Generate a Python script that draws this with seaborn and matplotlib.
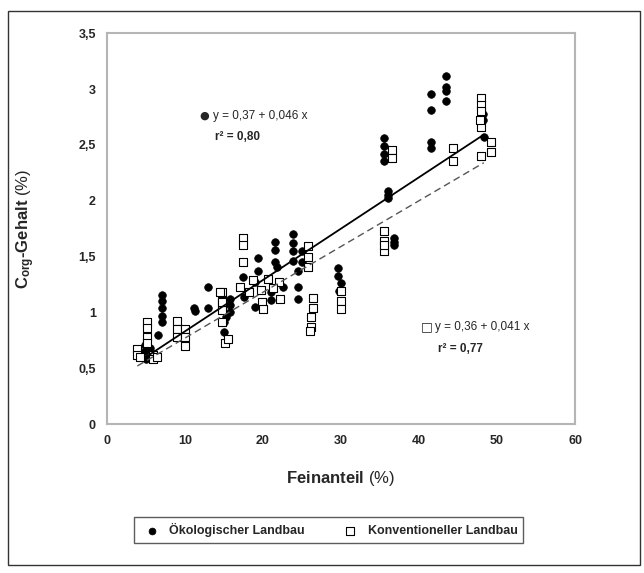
"""
plot.py - Corg-Gehalt vs. Feinanteil, Oekologischer vs. Konventioneller Landbau.
"""

import numpy as np
import matplotlib
matplotlib.use("Agg")
import matplotlib.pyplot as plt
from matplotlib.patches import Rectangle
from matplotlib.ticker import FuncFormatter
import seaborn as sns

# ---- data ----------------------------------------------------------------
oeko_x = [4.9, 4.9, 5.0, 5.8, 6.0, 5.5, 6.6, 7.0, 7.0, 7.1, 7.1, 7.1,
          11.1, 11.3, 13.0, 13.0, 15.0, 15.0, 15.2, 15.8, 15.8, 15.8,
          17.4, 17.6, 19.0, 19.0, 19.3, 19.3, 21.0, 21.0, 21.6, 21.6, 21.6,
          21.8, 22.6, 23.8, 23.8, 23.8, 23.8, 24.5, 24.5, 24.5, 25.0, 25.0,
          29.6, 29.6, 30.0, 29.8,
          35.5, 35.5, 35.5, 35.5, 36.0, 36.0, 36.0, 36.8, 36.8, 36.8,
          41.5, 41.5, 41.5, 41.5, 43.4, 43.4, 43.4, 43.4,
          48.0, 48.2, 48.2, 48.3]
oeko_y = [0.71, 0.65, 0.58, 0.59, 0.63, 0.68, 0.80, 0.91, 0.97, 1.04, 1.10, 1.16,
          1.04, 1.01, 1.23, 1.04, 0.91, 0.82, 0.96, 1.00, 1.12, 1.07,
          1.32, 1.14, 1.27, 1.05, 1.49, 1.37, 1.18, 1.11, 1.63, 1.56, 1.45,
          1.41, 1.23, 1.70, 1.62, 1.55, 1.46, 1.37, 1.23, 1.12, 1.55, 1.45,
          1.40, 1.33, 1.26, 1.19,
          2.56, 2.49, 2.42, 2.36, 2.09, 2.02, 2.05, 1.67, 1.60, 1.63,
          2.96, 2.81, 2.53, 2.47, 3.12, 3.02, 2.98, 2.89,
          2.85, 2.78, 2.72, 2.57]

konv_x = [3.9, 3.9, 4.2, 5.1, 5.1, 5.1, 5.1, 5.9, 5.9, 6.4,
          9.0, 9.0, 9.0, 10.0, 10.0, 10.0,
          14.8, 14.8, 14.8, 14.8, 15.1, 15.5, 14.5, 14.7,
          17.1, 17.5, 17.5, 17.5, 18.7, 19.7, 19.9, 20.0, 20.7, 22.0, 22.2,
          18.2, 21.3,
          25.8, 25.8, 25.8, 26.4, 26.4, 26.2, 26.2, 26.0,
          30.0, 30.0, 30.0,
          35.5, 35.5, 35.5, 35.5,
          36.6, 36.6,
          44.3, 44.3,
          48.0, 48.0, 48.0, 48.0, 48.0, 49.2, 49.2, 47.8]
konv_y = [0.67, 0.62, 0.60, 0.91, 0.86, 0.78, 0.73, 0.62, 0.58, 0.60,
          0.92, 0.85, 0.78, 0.85, 0.78, 0.70,
          1.18, 1.10, 1.02, 0.91, 0.73, 0.76, 1.18, 1.09,
          1.23, 1.67, 1.60, 1.45, 1.29, 1.20, 1.09, 1.03, 1.30, 1.27, 1.12,
          1.18, 1.22,
          1.59, 1.50, 1.41, 1.13, 1.04, 0.96, 0.87, 0.83,
          1.19, 1.10, 1.03,
          1.73, 1.64, 1.55, 1.60,
          2.45, 2.38,
          2.47, 2.36,
          2.92, 2.86, 2.80, 2.66, 2.40, 2.53, 2.44, 2.72]

# regression coefficients (intercept, slope) as printed in the chart
oeko_fit = [0.37, 0.046]
konv_fit = [0.36, 0.041]

x_ticks = [0, 10, 20, 30, 40, 50, 60]
y_ticks = [0, 0.5, 1, 1.5, 2, 2.5, 3, 3.5]

# ---- style ---------------------------------------------------------------
sns.set_style("white")
plt.rcParams["font.family"] = ["Liberation Sans", "DejaVu Sans"]
plt.rcParams["mathtext.fontset"] = "custom"
plt.rcParams["mathtext.rm"] = "Liberation Sans"
plt.rcParams["mathtext.bf"] = "Liberation Sans:bold"
plt.rcParams["mathtext.it"] = "Liberation Sans:italic"

fig = plt.figure(figsize=(6.44, 5.73), dpi=100)
ax = fig.add_axes([0.166, 0.260, 0.727, 0.682])

# outer frame round the whole figure
fig.patches.append(Rectangle((8 / 644, 1 - 565 / 573), 632 / 644, 554 / 573,
                             transform=fig.transFigure, fill=False,
                             edgecolor="#333333", linewidth=1.0))

sns.scatterplot(x=oeko_x, y=oeko_y, ax=ax, marker="o", s=30,
                color="black", edgecolor="black", linewidth=0.5,
                label="Ökologischer Landbau", zorder=3)
sns.scatterplot(x=konv_x, y=konv_y, ax=ax, marker="s", s=36,
                color="white", edgecolor="black", linewidth=0.8,
                label="Konventioneller Landbau", zorder=4)

# fit lines from the printed equations
xo = np.array([min(oeko_x), max(oeko_x)])
xk = np.array([min(konv_x), 48.3])
ax.plot(xo, oeko_fit[0] + oeko_fit[1] * xo, color="black", lw=1.3, zorder=5)
ax.plot(xk, konv_fit[0] + konv_fit[1] * xk, color="#555555", lw=1.0,
        ls=(0, (5, 3)), zorder=5)

ax.set_xlim(0, 60)
ax.set_ylim(0, 3.5)
ax.set_xticks(x_ticks)
ax.set_yticks(y_ticks)
comma = FuncFormatter(lambda v, p: f"{v:g}".replace(".", ","))
ax.xaxis.set_major_formatter(comma)
ax.yaxis.set_major_formatter(comma)
ax.tick_params(axis="both", labelsize=9, length=0, pad=8)
for lab in ax.get_xticklabels() + ax.get_yticklabels():
    lab.set_fontweight("bold")

for sp in ax.spines.values():
    sp.set_color("#b5b5b5")
    sp.set_linewidth(1.5)

ax.set_xlabel(r"Feinanteil $\mathrm{(\%)}$", fontsize=12, fontweight="bold",
              labelpad=16)
ax.set_ylabel(r"C$_{\mathbf{org}}$-Gehalt $\mathrm{(\%)}$", fontsize=12,
              fontweight="bold", labelpad=30)

# equations
ax.text(11.9, 2.76, "●", fontsize=8, va="center", family=["DejaVu Sans"])
ax.text(13.6, 2.76, "y = 0,37 + 0,046 x", fontsize=8.5, va="center")
ax.text(13.9, 2.57, "r² = 0,80", fontsize=8.5, va="center", fontweight="bold")
ax.text(40.3, 0.87, "□", fontsize=9, va="center", family=["DejaVu Sans"])
ax.text(42.0, 0.87, "y = 0,36 + 0,041 x", fontsize=8.5, va="center")
ax.text(42.4, 0.67, "r² = 0,77", fontsize=8.5, va="center", fontweight="bold")

# legend below the plot
handles, labels = ax.get_legend_handles_labels()
ax.legend_.remove()
leg = fig.legend(handles, labels, loc="center", ncol=2,
                 bbox_to_anchor=(0.51, 0.075), frameon=True, fancybox=False,
                 edgecolor="#333333", prop={"weight": "bold", "size": 9},
                 handletextpad=0.4, columnspacing=2.6, borderpad=0.45,
                 markerscale=0.9)
leg.get_frame().set_linewidth(1.0)

fig.savefig("out.png", dpi=100)
